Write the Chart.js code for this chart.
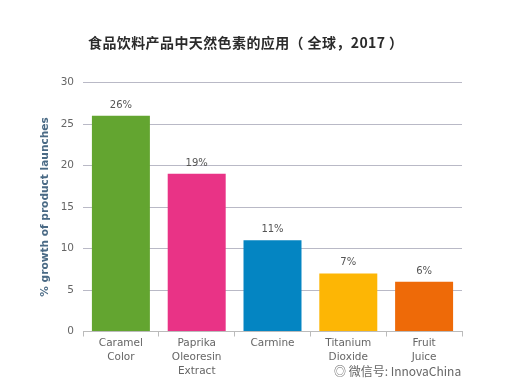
<!DOCTYPE html>
<html>
<head>
<meta charset="utf-8">
<style>
html, body { margin: 0; padding: 0; background: #fff; }
#wrap { position: relative; width: 508px; height: 386px; }
#title { position: absolute; left: 88px; top: 32px; font: bold 14px "Noto Sans CJK SC", sans-serif; letter-spacing: 0.4px; color: #2b2b2b; white-space: pre; line-height: 20px; }
#mark { position: absolute; left: 334px; top: 363px; font: 12px "Noto Sans CJK SC", sans-serif; color: #666; white-space: nowrap; line-height: 16px; }
</style>
<script src="https://cdn.jsdelivr.net/npm/chart.js@4"></script>
</head>
<body>
<div id="wrap">
  <canvas id="chart" width="508" height="386"></canvas>
  <div id="title">食品饮料产品中天然色素的应用（ 全球，2017 ）</div>
  <div id="mark">◎ 微信号: InnovaChina</div>
</div>
<script>
const categories = [['Caramel', 'Color'], ['Paprika', 'Oleoresin', 'Extract'], 'Carmine', ['Titanium', 'Dioxide'], ['Fruit', 'Juice']];
const growth = [26, 19, 11, 7, 6];
const barColors = ['#63a530', '#e93386', '#0485c2', '#fdb605', '#ee6a08'];
const yTicks = [0, 5, 10, 15, 20, 25, 30];

// value labels above each bar
const barLabels = {
    id: 'barLabels',
    afterDatasetsDraw(chart) {
        const { ctx } = chart;
        ctx.save();
        ctx.font = '10px "DejaVu Sans"';
        ctx.fillStyle = '#555';
        ctx.textAlign = 'center';
        chart.getDatasetMeta(0).data.forEach((bar, i) => {
            ctx.fillText(growth[i] + '%', bar.x, bar.y - 8);
        });
        ctx.restore();
    },
};

new Chart(document.getElementById('chart'), {
    type: 'bar',
    data: {
        labels: categories,
        datasets: [{
            data: growth,
            backgroundColor: barColors,
            barPercentage: 0.765,
            categoryPercentage: 1,
        }],
    },
    plugins: [barLabels],
    options: {
        responsive: false,
        animation: false,
        layout: { padding: { top: 82.5, right: 46, bottom: 0, left: 39 } },
        plugins: { legend: { display: false }, tooltip: { enabled: false } },
        scales: {
            x: {
                afterFit: (axis) => { axis.height = 54.5; },
                grid: { display: true, drawOnChartArea: false, drawTicks: true, tickLength: 5, color: '#bbb' },
                border: { color: '#bbb' },
                ticks: { color: '#666', font: { family: 'DejaVu Sans', size: 10.5, lineHeight: 1.33 }, maxRotation: 0, autoSkip: false, padding: 0 },
            },
            y: {
                min: 0,
                max: 30,
                afterFit: (axis) => { axis.width = 44; },
                afterBuildTicks: (axis) => { axis.ticks = yTicks.map(v => ({ value: v })); },
                grid: { color: '#b9b9c6', tickLength: 8, tickColor: 'transparent' },
                border: { display: false },
                ticks: { color: '#666', font: { family: 'DejaVu Sans', size: 10.5 }, padding: 1 },
                title: {
                    display: true,
                    text: '% growth of product launches',
                    color: '#4a6a85',
                    font: { family: 'DejaVu Sans', size: 10.6, weight: 'bold' },
                    padding: 0,
                },
            },
        },
    },
});
</script>
</body>
</html>
